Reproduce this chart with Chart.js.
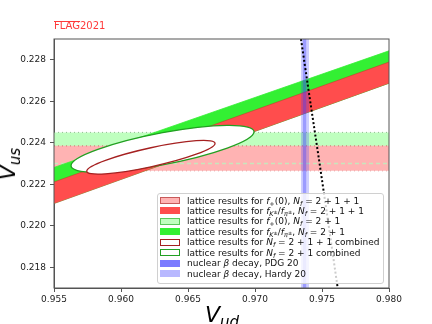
<!DOCTYPE html>
<html>
<head>
<meta charset="utf-8">
<script src="https://cdn.jsdelivr.net/npm/chart.js@4"></script>
<style>
  body { margin: 0; background: #fff; }
  #wrap { position: relative; width: 432px; height: 324px; overflow: hidden; font-family: "DejaVu Sans", sans-serif; }
  canvas { position: absolute; left: 0; top: 0; }
  .lbl { position: absolute; white-space: nowrap; color: #000; }
  #flag { left: 54px; top: 20.5px; font-size: 10px; line-height: 10px; color: #ff3b3b; }
  #flag .ol { display: inline-block; line-height: 7px; border-top: 1px solid #ff3b3b; }
  .ax { font-size: 22px; line-height: 22px; height: 22px; }
  .ax sub { font-size: 15px; vertical-align: -5px; line-height: 0; }
  #xlab { left: 205px; top: 304px; }
  #ylab { left: 8.4px; top: 163.5px; transform: translate(-50%, -50%) rotate(-90deg); }
  #legend { position: absolute; left: 157px; top: 193px; width: 227px; height: 91px;
    box-sizing: border-box; border: 1px solid #d0d0d0; border-radius: 3px;
    background: rgba(255,255,255,0.8); padding: 1.5px 0 0 2px; font-size: 9px; }
  .row { height: 10.47px; line-height: 10.47px; white-space: nowrap; color: #111; }
  .sw { display: inline-block; width: 20px; height: 7px; box-sizing: border-box;
    border: 1px solid transparent; vertical-align: -0.5px; margin-right: 7px; }
  .row sub { font-size: 6.5px; vertical-align: -2px; line-height: 0; }
  .row sup { font-size: 5px; vertical-align: 2px; line-height: 0; }
</style>
</head>
<body>
<div id="wrap">
  <canvas id="grafico" width="432" height="324"></canvas>
  <div class="lbl" id="flag"><span class="ol">FLAG</span>2021</div>
  <div class="lbl ax" id="xlab"><i>V</i><sub><i>ud</i></sub></div>
  <div class="lbl ax" id="ylab"><i>V</i><sub><i>us</i></sub></div>
  <div id="legend"></div>
</div>
<script>
// axes
var xTicks = [0.955, 0.960, 0.965, 0.970, 0.975, 0.980];
var yTicks = [0.218, 0.220, 0.222, 0.224, 0.226, 0.228];
var xRange = [0.955, 0.980];
var yRange = [0.217, 0.229];

// f+(0): horizontal bands in Vus (low, high)
var fPlus211 = [0.22265, 0.22385];
var fPlus21 = [0.22300, 0.22450];

// fK/fpi: slanted bands, Vus at Vud = 0.955 and 0.980
var fKpi211Lo = [0.22107, 0.22687];
var fKpi211Hi = [0.22211, 0.22789];
var fKpi21Lo = [0.22108, 0.22687];
var fKpi21Hi = [0.22281, 0.22843];

// nuclear beta decay, Vud (low, high)
var betaPDG = [0.97356, 0.97384];
var betaHardy = [0.97342, 0.97404];

// unitarity curve
var unitVud = [0.97343, 0.97412, 0.97482, 0.97550, 0.97617];
var unitVus = [0.229, 0.226, 0.223, 0.220, 0.217];

// combined fits: centre Vud, centre Vus, tip offset dVud, tip offset dVus, half height dVus
var ell211 = [0.96223, 0.22330, 0.004787, 0.000669, 0.000459];
var ell21 = [0.96310, 0.22371, 0.006828, 0.000821, 0.000773];

var legendLabels = [
  'lattice results for <i>f</i><sub>+</sub>(0), <i>N<sub>f</sub></i> = 2 + 1 + 1',
  'lattice results for <i>f</i><sub><i>K</i><sup>±</sup></sub>/<i>f</i><sub><i>π</i><sup>±</sup></sub>, <i>N<sub>f</sub></i> = 2 + 1 + 1',
  'lattice results for <i>f</i><sub>+</sub>(0), <i>N<sub>f</sub></i> = 2 + 1',
  'lattice results for <i>f</i><sub><i>K</i><sup>±</sup></sub>/<i>f</i><sub><i>π</i><sup>±</sup></sub>, <i>N<sub>f</sub></i> = 2 + 1',
  'lattice results for <i>N<sub>f</sub></i> = 2 + 1 + 1 combined',
  'lattice results for <i>N<sub>f</sub></i> = 2 + 1 combined',
  'nuclear <i>β</i> decay, PDG 20',
  'nuclear <i>β</i> decay, Hardy 20'
];
var legendFill = ['#ffb3b3', '#ff4d4d', '#bfffbf', '#33f033', '#ffffff', '#ffffff', '#7b7bff', '#b8b8ff'];
var legendEdge = ['#c85a5a', '#ff4d4d', '#5ac85a', '#33f033', '#a52020', '#22a022', '#7b7bff', '#b8b8ff'];

var colPink = '#ffb3b3', colLightGreen = '#bfffbf', colRed = '#ff4d4d', colGreen = '#33f033';

function hline(v) {
  return [{x: xRange[0], y: v}, {x: xRange[1], y: v}];
}
function sline(v) {
  return [{x: xRange[0], y: v[0]}, {x: xRange[1], y: v[1]}];
}
function vband(v) {
  return [{x: v[0], y: yRange[1]}, {x: v[1], y: yRange[1]}];
}

var unitPts = unitVud.map(function (v, i) { return {x: v, y: unitVus[i]}; });

var datasets = [
  // unitarity
  {data: unitPts, borderColor: '#000', borderWidth: 2, borderDash: [2, 2.2], fill: false, order: 1},
  // nuclear beta decay
  {data: vband(betaPDG), borderWidth: 0, backgroundColor: 'rgba(60,60,255,0.35)', fill: 'start', order: 2},
  {data: vband(betaHardy), borderWidth: 0, backgroundColor: 'rgba(60,60,255,0.25)', fill: 'start', order: 3},
  // fK/fpi Nf=2+1+1
  {data: sline(fKpi211Hi), borderColor: 'rgba(200,40,40,0.6)', borderWidth: 0.8, backgroundColor: colRed, fill: '+1', order: 4},
  {data: sline(fKpi211Lo), borderColor: 'rgba(200,40,40,0.6)', borderWidth: 0.8, fill: false, order: 4},
  // fK/fpi Nf=2+1
  {data: sline(fKpi21Hi), borderColor: colGreen, borderWidth: 0.8, backgroundColor: colGreen, fill: '+1', order: 6},
  {data: sline(fKpi21Lo), borderColor: colGreen, borderWidth: 0.8, fill: false, order: 6},
  // lower edge of f+ Nf=2+1 shown on top of the pink band
  {data: hline(fPlus21[0]), borderColor: '#c8e6bc', borderWidth: 1.3, borderDash: [4, 3], fill: false, order: 7},
  // f+ Nf=2+1+1
  {data: hline(fPlus211[1]), borderColor: 'rgba(190,80,80,0.7)', borderWidth: 1, borderDash: [1, 3], backgroundColor: colPink, fill: '+1', order: 8},
  {data: hline(fPlus211[0]), borderColor: 'rgba(190,80,80,0.7)', borderWidth: 1, borderDash: [1, 3], fill: false, order: 8},
  // f+ Nf=2+1
  {data: hline(fPlus21[1]), borderColor: 'rgba(110,160,110,0.7)', borderWidth: 1, borderDash: [1, 3], backgroundColor: colLightGreen, fill: '+1', order: 10},
  {data: hline(fPlus21[0]), borderColor: 'rgba(0,0,0,0)', borderWidth: 0, fill: false, order: 10}
];

function drawEllipse(chart, e, edge) {
  var ctx = chart.ctx, x = chart.scales.x, y = chart.scales.y;
  var cx = x.getPixelForValue(e[0]), cy = y.getPixelForValue(e[1]);
  var ux = x.getPixelForValue(e[0] + e[2]) - cx;
  var uy = y.getPixelForValue(e[1] + e[3]) - cy;
  var vy = y.getPixelForValue(e[1] + e[4]) - cy;
  ctx.save();
  ctx.beginPath();
  ctx.transform(ux, uy, 0, vy, cx, cy);
  ctx.arc(0, 0, 1, 0, 2 * Math.PI);
  ctx.closePath();
  ctx.restore();
  ctx.save();
  ctx.fillStyle = '#fff';
  ctx.fill();
  ctx.strokeStyle = edge;
  ctx.lineWidth = 1.3;
  ctx.stroke();
  ctx.restore();
}

var extras = {
  id: 'extras',
  afterDatasetsDraw: function (chart) {
    drawEllipse(chart, ell21, '#22a022');
    drawEllipse(chart, ell211, '#a52020');
    var a = chart.chartArea, ctx = chart.ctx;
    ctx.save();
    ctx.strokeStyle = '#555';
    ctx.lineWidth = 1;
    ctx.strokeRect(a.left, a.top, a.right - a.left, a.bottom - a.top);
    ctx.restore();
  }
};

function fixTicks(vals) {
  return function (scale) {
    scale.ticks = vals.map(function (v) { return {value: v}; });
  };
}

var tickFont = {family: 'DejaVu Sans', size: 9};

new Chart(document.getElementById('grafico'), {
  type: 'line',
  data: {datasets: datasets},
  plugins: [extras],
  options: {
    responsive: false,
    animation: false,
    layout: {padding: {top: 39, right: 43, left: 0, bottom: 0}},
    elements: {point: {radius: 0}, line: {tension: 0}},
    plugins: {legend: {display: false}, tooltip: {enabled: false}},
    scales: {
      x: {
        type: 'linear', min: xRange[0], max: xRange[1],
        afterBuildTicks: fixTicks(xTicks),
        afterFit: function (s) { s.height = 36; },
        grid: {drawOnChartArea: false, tickLength: 4, color: '#555'},
        border: {color: '#555'},
        ticks: {font: tickFont, color: '#222', padding: 2, maxRotation: 0,
          callback: function (v) { return v.toFixed(3); }}
      },
      y: {
        type: 'linear', min: yRange[0], max: yRange[1],
        afterBuildTicks: fixTicks(yTicks),
        afterFit: function (s) { s.width = 54; },
        grid: {drawOnChartArea: false, tickLength: 4, color: '#555'},
        border: {color: '#555'},
        ticks: {font: tickFont, color: '#222', padding: 4,
          callback: function (v) { return v.toFixed(3); }}
      }
    }
  }
});

var leg = document.getElementById('legend');
legendLabels.forEach(function (t, i) {
  var row = document.createElement('div');
  row.className = 'row';
  row.innerHTML = '<span class="sw" style="background:' + legendFill[i] + ';border-color:' + legendEdge[i] + '"></span>' + t;
  leg.appendChild(row);
});
</script>
</body>
</html>
